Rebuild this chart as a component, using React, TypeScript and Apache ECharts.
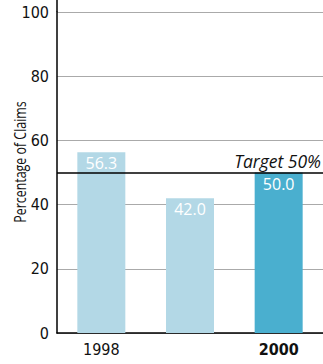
import React, { useEffect, useRef } from "react";
import * as echarts from "echarts";

const categories = ["1998", "1999", "2000"];
const values = [56.3, 42.0, 50.0];
const barColors = ["#b3d8e6", "#b3d8e6", "#4aafcf"];
const targetValue = 50;
const targetLabel = "Target 50%";
const yTicks = [0, 20, 40, 60, 80, 100];
const yAxisTitle = "Percentage of Claims";

const FONT = "'Liberation Sans Narrow', 'DejaVu Sans Condensed', sans-serif";

export default function App() {
  const ref = useRef<HTMLDivElement>(null);
  useEffect(() => {
    if (!ref.current) return;
    const chart = echarts.init(ref.current, null, { renderer: "svg" });
    chart.setOption({
      animation: false,
      grid: { left: 57, right: 0, top: 12, bottom: 31, containLabel: false, outerBoundsMode: "none" },
      xAxis: {
        type: "category",
        data: categories,
        axisLine: { lineStyle: { color: "#000", width: 1.5 } },
        axisTick: { show: false },
        axisLabel: {
          fontFamily: FONT,
          fontSize: 16,
          color: "#111",
          margin: 8,
          formatter: (v: string) => (v === "2000" ? "{b|" + v + "}" : v),
          rich: { b: { fontWeight: "bold", fontFamily: FONT, fontSize: 16, color: "#111" } },
        },
      },
      yAxis: {
        type: "value",
        min: 0,
        max: yTicks[yTicks.length - 1],
        interval: 20,
        axisLine: { show: true, lineStyle: { color: "#000", width: 1.5 } },
        axisTick: { show: false },
        axisLabel: { fontFamily: FONT, fontSize: 16, color: "#111", margin: 8 },
        splitLine: { lineStyle: { color: "#aaa", width: 1 } },
      },
      graphic: [
        { type: "line", shape: { x1: 57, y1: 0, x2: 57, y2: 12 }, style: { stroke: "#000", lineWidth: 1.5 } },
        {
          type: "text",
          x: 19.5,
          y: 162,
          rotation: Math.PI / 2,
          scaleX: 0.8,
          style: {
            text: yAxisTitle,
            fontFamily: "'Open Sans', sans-serif",
            fontSize: 15.5,
            fill: "#111",
            align: "center",
            verticalAlign: "middle",
          },
        },
      ],
      series: [
        {
          type: "bar",
          barWidth: 48,
          data: values.map((v, i) => ({ value: v, itemStyle: { color: barColors[i] } })),
          label: {
            show: true,
            position: "insideTop",
            distance: 3,
            color: "#fff",
            fontFamily: "'Open Sans', sans-serif",
            fontSize: 16,
            formatter: (p: any) => p.value.toFixed(1),
          },
          markLine: {
            silent: true,
            symbol: "none",
            lineStyle: { color: "#000", width: 1.5, type: "solid" },
            label: {
              show: true,
              position: "insideEndTop",
              formatter: targetLabel,
              fontStyle: "italic",
              fontFamily: "'Open Sans', sans-serif",
              fontSize: 17.5,
              color: "#111",
              distance: [2, 3],
            },
            data: [{ yAxis: targetValue }],
          },
        },
      ],
    });
    return () => chart.dispose();
  }, []);
  return <div ref={ref} style={{ width: 323, height: 364, position: "absolute", left: 0, top: 0 }} />;
}
